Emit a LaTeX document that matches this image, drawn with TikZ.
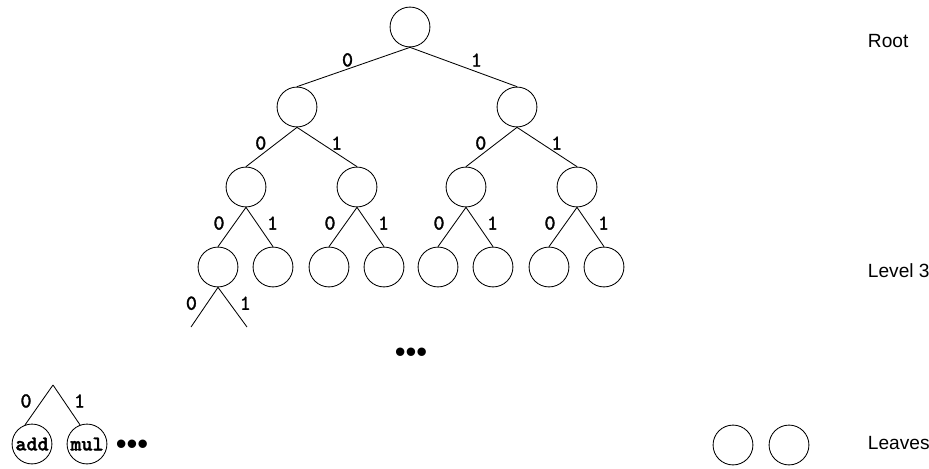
\documentclass[tikz,border=0pt]{standalone}
\usepackage{fontspec}
\setsansfont{Liberation Sans}
\newfontfamily\codefont{lmmonolt10-bold}[Extension=.otf, FakeBold=1.6]
\newfontfamily\bitfont{lmmono10-regular}[Extension=.otf, FakeBold=1.5]
\begin{document}
\begin{tikzpicture}[
  x=0.025cm, y=-0.025cm,
  vert/.style={draw, circle, minimum size=28.35pt, inner sep=0pt, line width=0.6pt, font=\codefont\fontsize{15}{17}\selectfont},
  link/.style={line width=0.6pt},
  bit/.style={font=\bitfont\fontsize{15}{17}\selectfont, inner sep=0pt},
  zero/.style={bit, pos=.4, left=7pt},
  one/.style={bit, pos=.4, right=7pt},
  lvl/.style={anchor=west, font=\sffamily\fontsize{13.6}{16}\selectfont},
  more/.style={anchor=center, inner sep=0pt, font=\sffamily\fontsize{22}{24}\selectfont}
]
\useasboundingbox (0,0) rectangle (929,468);

% the tree, level by level
\node[vert] (r) at (410,27) {};
\node[vert] (n0) at (297,107) {};
\node[vert] (n1) at (517,107) {};
\node[vert] (n00) at (246,187) {};
\node[vert] (n01) at (357,187) {};
\node[vert] (n10) at (466,187) {};
\node[vert] (n11) at (577,187) {};
\node[vert] (n000) at (218,267) {};
\node[vert] (n001) at (273,267) {};
\node[vert] (n010) at (329,267) {};
\node[vert] (n011) at (384,267) {};
\node[vert] (n100) at (438,267) {};
\node[vert] (n101) at (493,267) {};
\node[vert] (n110) at (549,267) {};
\node[vert] (n111) at (604,267) {};

\draw[link] (r.south) -- node[bit, midway, above left] {0} (n0.north);
\draw[link] (r.south) -- node[bit, midway, above right, xshift=5pt] {1} (n1.north);
\draw[link] (n0.south) -- node[zero] {0} (n00.north);
\draw[link] (n0.south) -- node[one] {1} (n01.north);
\draw[link] (n1.south) -- node[zero] {0} (n10.north);
\draw[link] (n1.south) -- node[one] {1} (n11.north);
\draw[link] (n00.south) -- node[zero] {0} (n000.north);
\draw[link] (n00.south) -- node[one] {1} (n001.north);
\draw[link] (n01.south) -- node[zero] {0} (n010.north);
\draw[link] (n01.south) -- node[one] {1} (n011.north);
\draw[link] (n10.south) -- node[zero] {0} (n100.north);
\draw[link] (n10.south) -- node[one] {1} (n101.north);
\draw[link] (n11.south) -- node[zero] {0} (n110.north);
\draw[link] (n11.south) -- node[one] {1} (n111.north);

% open branches below the first level-3 vertex
\coordinate (d0) at (191,327);
\coordinate (d1) at (247,327);
\draw[link] (n000.south) -- node[zero] {0} (d0);
\draw[link] (n000.south) -- node[one] {1} (d1);

\node[more] (gap) at (411,355) {•••};

% leaves
\coordinate (top) at (53,385);
\node[vert] (add) at (32,444) {add};
\node[vert] (mul) at (87,444) {mul};
\draw[link] (top) -- node[zero] {0} (add.110);
\draw[link] (top) -- node[one] {1} (mul.110);
\node[more] (rest) at (132,447) {•••};

\node[vert] (l1) at (733,445) {};
\node[vert] (l2) at (789,445) {};

% level names
\node[lvl] (root) at (863,41) {Root};
\node[lvl] (lev3) at (863,271) {Level 3};
\node[lvl] (leaves) at (863,443) {Leaves};
\end{tikzpicture}
\end{document}
